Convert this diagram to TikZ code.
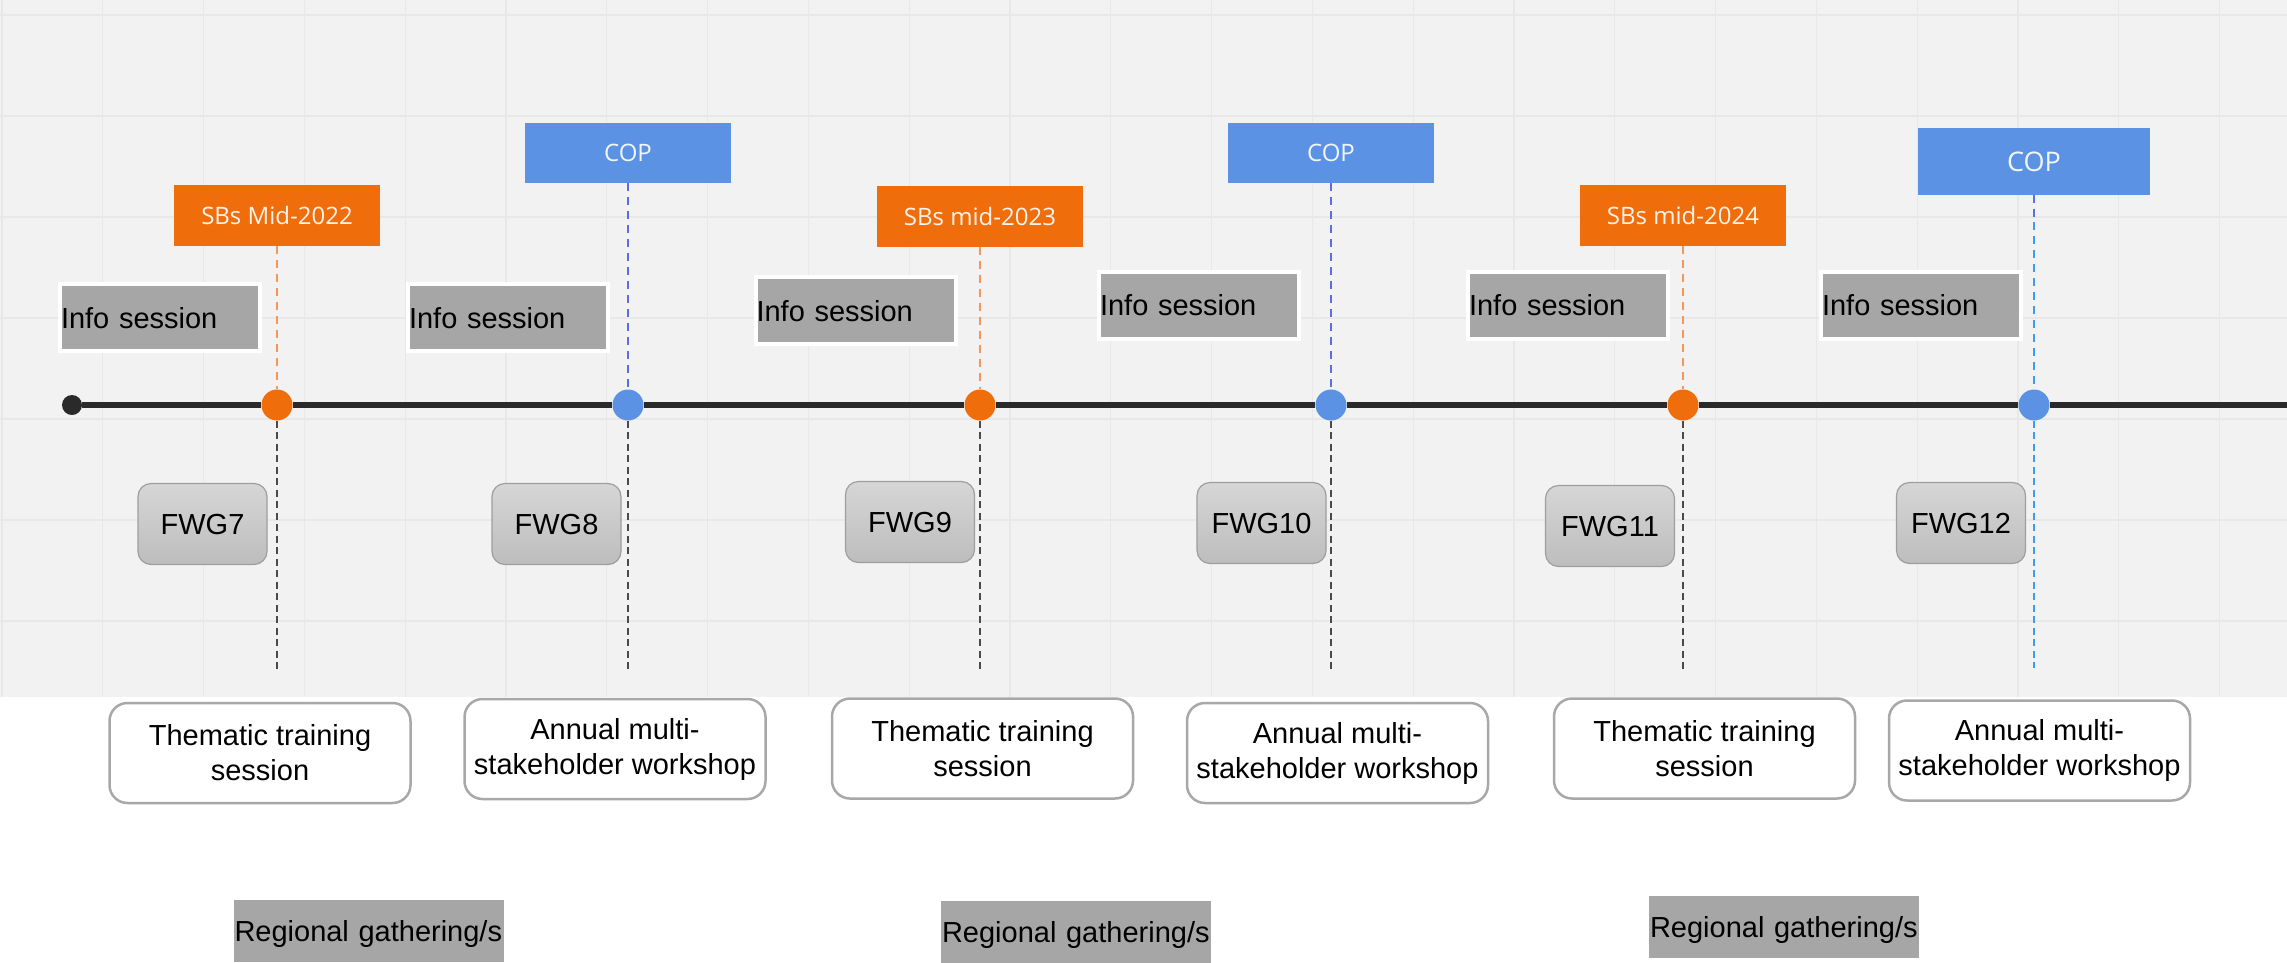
\documentclass[tikz,border=0pt]{standalone}
\usepackage{fontspec}
\setmainfont{Liberation Sans}
\newfontfamily\opensans{Open Sans}
\definecolor{bgGray}{HTML}{F2F2F2}
\definecolor{gridGray}{HTML}{E8E8E8}
\definecolor{sbOrange}{HTML}{F06D0C}
\definecolor{sbDash}{HTML}{F4955A}
\definecolor{copBlue}{HTML}{5B92E4}
\definecolor{copDash}{HTML}{5D6EE0}
\definecolor{lastDash}{HTML}{3D9CF2}
\definecolor{lineDark}{HTML}{2A2A2A}
\definecolor{stemGray}{HTML}{4A4A4A}
\definecolor{boxGray}{HTML}{A6A6A6}
\definecolor{fwgTop}{HTML}{D6D6D6}
\definecolor{fwgBot}{HTML}{BDBDBD}
\definecolor{fwgEdge}{HTML}{9E9E9E}
\definecolor{tskEdge}{HTML}{A8A8A8}
\begin{document}
\begin{tikzpicture}[x=1pt, y=-1pt, inner sep=0pt,
    lbl/.style={font=\fontsize{29}{35}\selectfont},
    sb/.style={fill=sbOrange, minimum width=206, minimum height=61, text=white, text opacity=.92, font=\opensans\fontsize{24}{28}\selectfont},
    cop/.style={sb, fill=copBlue, minimum height=60},
    info/.style={lbl, fill=boxGray, draw=white, line width=4, minimum width=200, minimum height=67, text width=198, align=left, text height=21, text depth=0},
    fwg/.style={lbl, draw=fwgEdge, line width=1.2, top color=fwgTop, bottom color=fwgBot, rounded corners=13, minimum width=129, minimum height=81, text height=21, text depth=0},
    tsk/.style={lbl, draw=tskEdge, line width=2.5, fill=white, rounded corners=18, minimum width=301, minimum height=100, align=center},
    reg/.style={lbl, fill=boxGray, minimum width=270, minimum height=62, text width=268, align=left, text height=21, text depth=0},
    ev/.style={circle, minimum size=31},
    sbdot/.style={ev, fill=sbOrange},
    copdot/.style={ev, fill=copBlue},
    axis/.style={draw=lineDark, line width=5.5},
    updash/.style={line width=2.5, dash pattern=on 8pt off 6pt},
    downdash/.style={draw=stemGray, line width=2.5, dash pattern=on 7pt off 4.5pt},
    gridline/.style={draw=gridGray, line width=1.2}]
  \useasboundingbox (0,0) rectangle (2287,962);
  \fill[bgGray] (0,0) rectangle (2287,697);
  \foreach \gx in {2,102.8,...,2287} \draw[gridline] (\gx,0) -- (\gx,697);
  \foreach \gy in {15,116,...,697} \draw[gridline] (0,\gy) -- (2287,\gy);

  \node[circle, fill=lineDark, minimum size=20] (start) at (72,405) {};
  \node[sbdot] (e1) at (277,405) {};
  \node[copdot] (e2) at (628,405) {};
  \node[sbdot] (e3) at (980,405) {};
  \node[copdot] (e4) at (1331,405) {};
  \node[sbdot] (e5) at (1683,405) {};
  \node[copdot] (e6) at (2034,405) {};
  \coordinate (end) at (2287,405);

  \node[sb] (sb1) at (277,215.5) {SBs Mid-2022};
  \node[cop] (cop1) at (628,153) {COP};
  \node[sb] (sb2) at (980,216) {SBs mid-2023};
  \node[cop] (cop2) at (1331,153) {COP};
  \node[sb] (sb3) at (1683,215.5) {SBs mid-2024};
  \node[cop, minimum width=232, minimum height=67, font=\opensans\fontsize{27}{31}\selectfont] (cop3) at (2034,161.5) {COP};

  \node[info] (in1) at (160,317.5) {Info session};
  \node[info] (in2) at (508,317.5) {Info session};
  \node[info] (in3) at (855.5,310.5) {Info session};
  \node[info] (in4) at (1199,305) {Info session};
  \node[info] (in5) at (1568,305) {Info session};
  \node[info] (in6) at (1921,305) {Info session};

  \node[fwg] (fwg7) at (202.5,524) {FWG7};
  \node[fwg] (fwg8) at (556.5,524) {FWG8};
  \node[fwg] (fwg9) at (910,522) {FWG9};
  \node[fwg] (fwg10) at (1261.5,523) {FWG10};
  \node[fwg] (fwg11) at (1610,526) {FWG11};
  \node[fwg] (fwg12) at (1961,523) {FWG12};

  \coordinate (s1) at (277,670);
  \coordinate (s2) at (628,670);
  \coordinate (s3) at (980,670);
  \coordinate (s4) at (1331,670);
  \coordinate (s5) at (1683,670);
  \coordinate (s6) at (2034,668);
  \coordinate (c3) at (2034,222);

  \node[tsk] (ts1) at (260,753) {Thematic training\\session};
  \node[tsk] (ws1) at (615,749) {Annual multi-\\stakeholder workshop};
  \node[tsk] (ts2) at (982.5,748.5) {Thematic training\\session};
  \node[tsk] (ws2) at (1337.5,753) {Annual multi-\\stakeholder workshop};
  \node[tsk] (ts3) at (1704.5,748.5) {Thematic training\\session};
  \node[tsk] (ws3) at (2039.5,750.5) {Annual multi-\\stakeholder workshop};

  \node[reg] (rg1) at (368.5,931) {Regional gathering/s};
  \node[reg] (rg2) at (1076,931.5) {Regional gathering/s};
  \node[reg] (rg3) at (1784,926.5) {Regional gathering/s};

  \draw[axis] (start) -- (e1) -- (e2) -- (e3) -- (e4) -- (e5) -- (e6) -- (end);
  \draw[updash, sbDash] (sb1) -- (e1);
  \draw[updash, copDash] (cop1) -- (e2);
  \draw[updash, sbDash] (sb2) -- (e3);
  \draw[updash, copDash] (cop2) -- (e4);
  \draw[updash, sbDash] (sb3) -- (e5);
  \draw[updash, copDash] (cop3) -- (c3);
  \draw[updash, lastDash] (c3) -- (e6);
  \draw[downdash] (e1) -- (s1);
  \draw[downdash] (e2) -- (s2);
  \draw[downdash] (e3) -- (s3);
  \draw[downdash] (e4) -- (s4);
  \draw[downdash] (e5) -- (s5);
  \draw[downdash, lastDash] (e6) -- (s6);
\end{tikzpicture}
\end{document}
